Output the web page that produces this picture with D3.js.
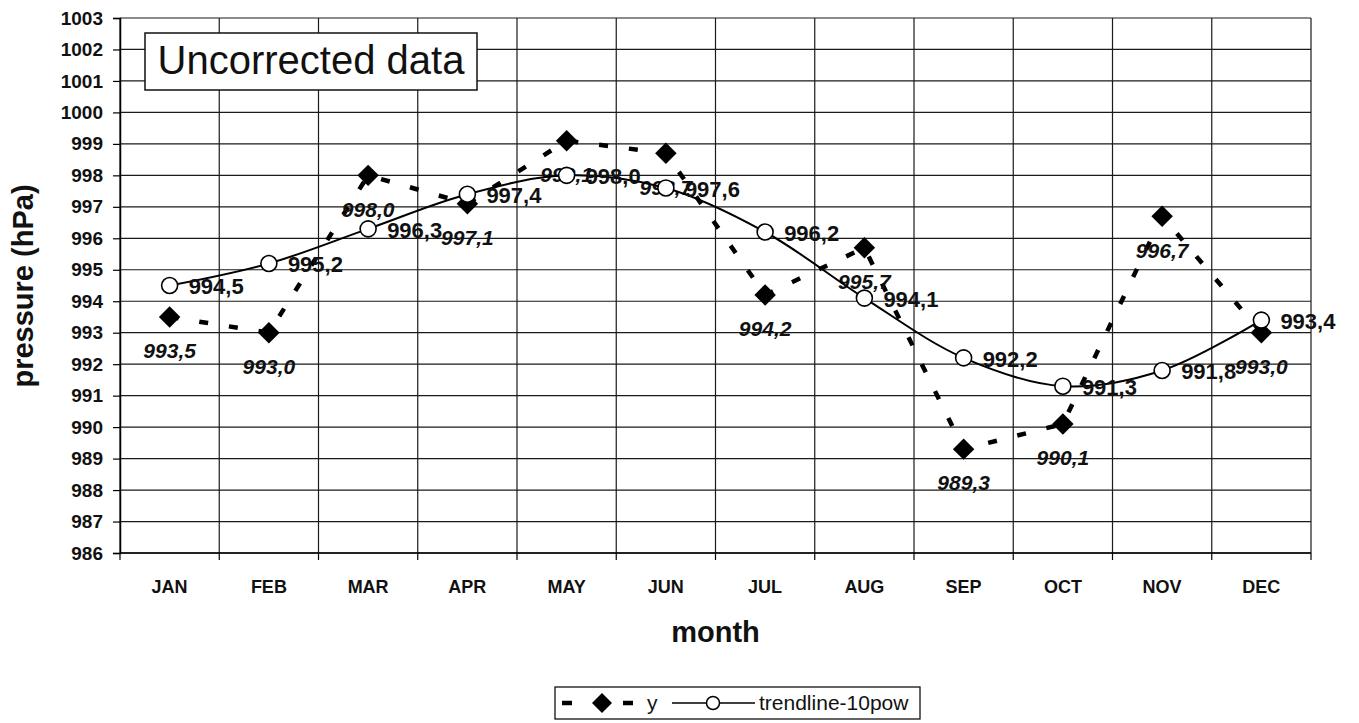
<!DOCTYPE html>
<html>
<head>
<meta charset="utf-8">
<script src="https://cdn.jsdelivr.net/npm/d3@7/dist/d3.min.js"></script>
<style>
  html, body { margin: 0; padding: 0; background: #fff; }
  svg { display: block; font-family: "Liberation Sans", Arial, sans-serif; }
</style>
</head>
<body>
<svg id="chart" width="1359" height="723"></svg>
<script>
// ---- data ----
const months = ["JAN","FEB","MAR","APR","MAY","JUN","JUL","AUG","SEP","OCT","NOV","DEC"];
const yValues = [993.5, 993.0, 998.0, 997.1, 999.1, 998.7, 994.2, 995.7, 989.3, 990.1, 996.7, 993.0];
const trendValues = [994.5, 995.2, 996.3, 997.4, 998.0, 997.6, 996.2, 994.1, 992.2, 991.3, 991.8, 993.4];
const yTicks = d3.range(986, 1004, 1);
const titleText = "Uncorrected data";
const yAxisTitle = "pressure (hPa)";
const xAxisTitle = "month";
const legendLabels = ["y", "trendline-10pow"];

(function () {
// ---- layout ----
const svg = d3.select("#chart");
const pLeft = 120, pRight = 1311, pTop = 18, pBottom = 553;

const x = d3.scaleBand().domain(months).range([pLeft, pRight]).padding(0);
const y = d3.scaleLinear().domain([986, 1003]).range([pBottom, pTop]);
const cx = m => x(m) + x.bandwidth() / 2;
const fmt = v => d3.format(".1f")(v).replace(".", ",");

const g = svg.append("g");

// horizontal gridlines
g.append("g").selectAll("line").data(yTicks).join("line")
  .attr("x1", pLeft).attr("x2", pRight)
  .attr("y1", d => y(d)).attr("y2", d => y(d))
  .attr("stroke", "#1a1a1a").attr("stroke-width", 1.2);

// vertical gridlines at band boundaries
const bounds = months.map(m => x(m)).concat([pRight]);
g.append("g").selectAll("line").data(bounds).join("line")
  .attr("x1", d => d).attr("x2", d => d)
  .attr("y1", pTop).attr("y2", pBottom)
  .attr("stroke", "#1a1a1a").attr("stroke-width", 1.2);

// y axis
const yAxis = d3.axisLeft(y).tickValues(yTicks).tickSize(7).tickPadding(10).tickFormat(d3.format("d"));
const ya = g.append("g").attr("transform", `translate(${pLeft},0)`).call(yAxis);
ya.select(".domain").attr("stroke", "#000").attr("stroke-width", 1.5);
ya.selectAll(".tick line").attr("stroke", "#000").attr("stroke-width", 1.2);
ya.selectAll(".tick text").attr("font-size", 19).attr("font-weight", "bold").attr("fill", "#111")
  .attr("font-family", '"Liberation Sans", Arial, sans-serif');

// x axis (labels centred in bands, ticks at boundaries)
const xa = g.append("g").attr("transform", `translate(0,${pBottom})`);
xa.append("line").attr("x1", pLeft).attr("x2", pRight).attr("y1", 0).attr("y2", 0)
  .attr("stroke", "#000").attr("stroke-width", 1.5);
xa.selectAll("line.tk").data(bounds).join("line").attr("class", "tk")
  .attr("x1", d => d).attr("x2", d => d).attr("y1", 0).attr("y2", 7)
  .attr("stroke", "#000").attr("stroke-width", 1.2);
xa.selectAll("text").data(months).join("text")
  .attr("x", d => cx(d)).attr("y", 40)
  .attr("text-anchor", "middle")
  .attr("font-size", 18).attr("font-weight", "bold").attr("fill", "#111")
  .text(d => d);

// axis titles
svg.append("text")
  .attr("transform", `translate(33,286) rotate(-90)`)
  .attr("text-anchor", "middle")
  .attr("font-size", 29).attr("font-weight", "bold").attr("fill", "#111")
  .text(yAxisTitle);
svg.append("text")
  .attr("x", (pLeft + pRight) / 2).attr("y", 642)
  .attr("text-anchor", "middle")
  .attr("font-size", 29).attr("font-weight", "bold").attr("fill", "#111")
  .text(xAxisTitle);

// title box
const tb = svg.append("g");
tb.append("rect").attr("x", 145).attr("y", 33).attr("width", 332).attr("height", 57)
  .attr("fill", "#fff").attr("stroke", "#111").attr("stroke-width", 1.5);
tb.append("text").attr("x", 311).attr("y", 74).attr("text-anchor", "middle")
  .attr("font-size", 40).attr("fill", "#111").text(titleText);

// ---- y series ----
const yData = months.map((m, i) => ({ m, v: yValues[i] }));
const tData = months.map((m, i) => ({ m, v: trendValues[i] }));

svg.append("path").datum(yData)
  .attr("d", d3.line().x(d => cx(d.m)).y(d => y(d.v)))
  .attr("fill", "none").attr("stroke", "#000").attr("stroke-width", 4.5)
  .attr("stroke-dasharray", "9,21");

const diamond = d3.symbol().type(d3.symbolSquare).size(230);
svg.append("g").selectAll("path").data(yData).join("path")
  .attr("d", diamond)
  .attr("transform", d => `translate(${cx(d.m)},${y(d.v)}) rotate(45)`)
  .attr("fill", "#000");

svg.append("g").selectAll("text").data(yData).join("text")
  .attr("x", d => cx(d.m)).attr("y", d => y(d.v) + 34)
  .attr("dy", "0.35em")
  .attr("text-anchor", "middle")
  .attr("font-size", 21).attr("font-weight", "bold").attr("font-style", "italic").attr("fill", "#111")
  .text(d => fmt(d.v));

// ---- trendline ----
svg.append("path").datum(tData)
  .attr("d", d3.line().x(d => cx(d.m)).y(d => y(d.v)).curve(d3.curveCatmullRom.alpha(0.5)))
  .attr("fill", "none").attr("stroke", "#000").attr("stroke-width", 2);

svg.append("g").selectAll("circle").data(tData).join("circle")
  .attr("cx", d => cx(d.m)).attr("cy", d => y(d.v)).attr("r", 8)
  .attr("fill", "#fff").attr("stroke", "#000").attr("stroke-width", 1.6);

svg.append("g").selectAll("text").data(tData).join("text")
  .attr("x", d => cx(d.m) + 19).attr("y", d => y(d.v))
  .attr("dy", "0.4em")
  .attr("font-size", 22).attr("font-weight", "bold").attr("fill", "#111")
  .text(d => fmt(d.v));

// ---- legend ----
const lg = svg.append("g");
lg.append("rect").attr("x", 555).attr("y", 687).attr("width", 365).attr("height", 32)
  .attr("fill", "#fff").attr("stroke", "#111").attr("stroke-width", 1.3);
const ly = 703;
lg.append("line").attr("x1", 562).attr("x2", 634).attr("y1", ly).attr("y2", ly)
  .attr("stroke", "#000").attr("stroke-width", 4.5).attr("stroke-dasharray", "10,51");
lg.append("path").attr("d", d3.symbol().type(d3.symbolSquare).size(200))
  .attr("transform", `translate(602,${ly}) rotate(45)`).attr("fill", "#000");
lg.append("text").attr("x", 647).attr("y", ly).attr("dy", "0.35em")
  .attr("font-size", 21).attr("fill", "#111").text(legendLabels[0]);
lg.append("line").attr("x1", 672).attr("x2", 755).attr("y1", ly).attr("y2", ly)
  .attr("stroke", "#000").attr("stroke-width", 1.6);
lg.append("circle").attr("cx", 713).attr("cy", ly).attr("r", 6.5)
  .attr("fill", "#fff").attr("stroke", "#000").attr("stroke-width", 1.5);
lg.append("text").attr("x", 759).attr("y", ly).attr("dy", "0.35em")
  .attr("font-size", 21).attr("fill", "#111").text(legendLabels[1]);
})();
</script>
</body>
</html>
